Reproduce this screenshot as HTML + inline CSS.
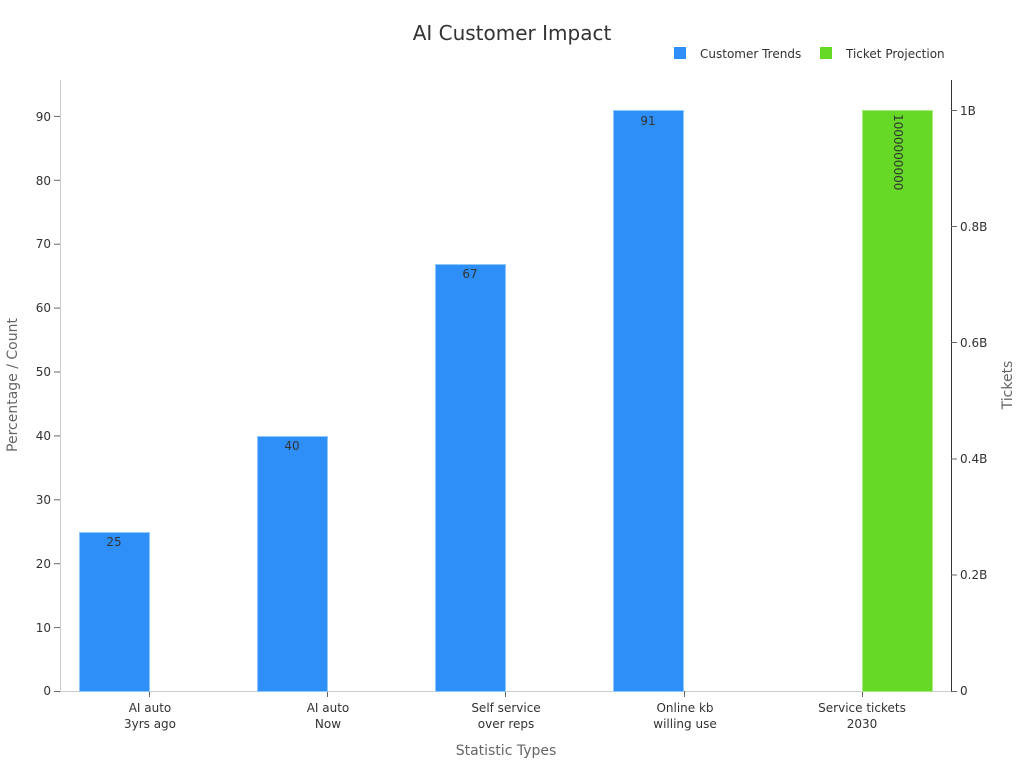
<!DOCTYPE html>
<html><head><style>body{margin:0;background:#fff}svg{display:block;font-family:"DejaVu Sans","Liberation Sans",sans-serif}</style></head>
<body>
<svg width="1024" height="768" viewBox="0 0 1024 768">
<text x="512" y="40" text-anchor="middle" font-size="20" fill="#333">AI Customer Impact</text>
<rect x="674" y="47" width="12" height="12" fill="#2f8ff8"/>
<text x="700" y="58" font-size="12" fill="#333">Customer Trends</text>
<rect x="820" y="47" width="12" height="12" fill="#66d926"/>
<text x="846" y="58" font-size="12" fill="#333">Ticket Projection</text>
<line x1="60.5" y1="80" x2="60.5" y2="691" stroke="#ccc"/>
<line x1="60" y1="691.5" x2="951" y2="691.5" stroke="#ccc"/>
<line x1="951.5" y1="80" x2="951.5" y2="691" stroke="#333"/>
<g font-size="12" fill="#333" text-anchor="end">
<text x="51" y="695">0</text><text x="51" y="632">10</text><text x="51" y="568">20</text><text x="51" y="504">30</text><text x="51" y="440">40</text><text x="51" y="376">50</text><text x="51" y="312">60</text><text x="51" y="248">70</text><text x="51" y="185">80</text><text x="51" y="121">90</text>
</g>
<g stroke="#666"><line x1="54" x2="60" y1="691.5" y2="691.5"/><line x1="54" x2="60" y1="627.6" y2="627.6"/><line x1="54" x2="60" y1="563.7" y2="563.7"/><line x1="54" x2="60" y1="499.8" y2="499.8"/><line x1="54" x2="60" y1="435.9" y2="435.9"/><line x1="54" x2="60" y1="372" y2="372"/><line x1="54" x2="60" y1="308.1" y2="308.1"/><line x1="54" x2="60" y1="244.2" y2="244.2"/><line x1="54" x2="60" y1="180.3" y2="180.3"/><line x1="54" x2="60" y1="116.4" y2="116.4"/>
<line x1="951" x2="957" y1="691.5" y2="691.5"/><line x1="951" x2="957" y1="575" y2="575"/><line x1="951" x2="957" y1="459" y2="459"/><line x1="951" x2="957" y1="342.5" y2="342.5"/><line x1="951" x2="957" y1="226.5" y2="226.5"/><line x1="951" x2="957" y1="110.5" y2="110.5"/>
<line x1="149.5" x2="149.5" y1="691" y2="697"/><line x1="327.5" x2="327.5" y1="691" y2="697"/><line x1="505.5" x2="505.5" y1="691" y2="697"/><line x1="684.5" x2="684.5" y1="691" y2="697"/><line x1="862.5" x2="862.5" y1="691" y2="697"/></g>
<g font-size="12" fill="#333"><text x="960" y="695">0</text><text x="960" y="579">0.2B</text><text x="960" y="463">0.4B</text><text x="960" y="347">0.6B</text><text x="960" y="231">0.8B</text><text x="960" y="115">1B</text></g>
<text transform="translate(17,385) rotate(-90)" text-anchor="middle" font-size="14" fill="#666">Percentage / Count</text>
<text transform="translate(1012,385) rotate(-90)" text-anchor="middle" font-size="14" fill="#666">Tickets</text>
<text x="506" y="755" text-anchor="middle" font-size="14" fill="#666">Statistic Types</text>
<g fill="#2f8ff8" stroke="#8fc8ff" stroke-width="1">
<rect x="79.5" y="532.5" width="70" height="159"/>
<rect x="257.5" y="436.5" width="70" height="255"/>
<rect x="435.5" y="264.5" width="70" height="427"/>
<rect x="613.5" y="110.5" width="70" height="581"/>
</g>
<rect x="862.5" y="110.5" width="70" height="581" fill="#66d926" stroke="#a8ec80"/>
<g font-size="12" fill="#333" text-anchor="middle">
<text x="114" y="546">25</text><text x="292" y="450">40</text><text x="470" y="278">67</text><text x="648" y="125">91</text>
<text transform="translate(894,114) rotate(90)" text-anchor="start">1000000000</text>
</g>
<g font-size="12" fill="#333" text-anchor="middle">
<text x="150" y="712">AI auto</text><text x="150" y="728">3yrs ago</text>
<text x="328" y="712">AI auto</text><text x="328" y="728">Now</text>
<text x="506" y="712">Self service</text><text x="506" y="728">over reps</text>
<text x="685" y="712">Online kb</text><text x="685" y="728">willing use</text>
<text x="862" y="712">Service tickets</text><text x="862" y="728">2030</text>
</g>
</svg>
</body></html>
